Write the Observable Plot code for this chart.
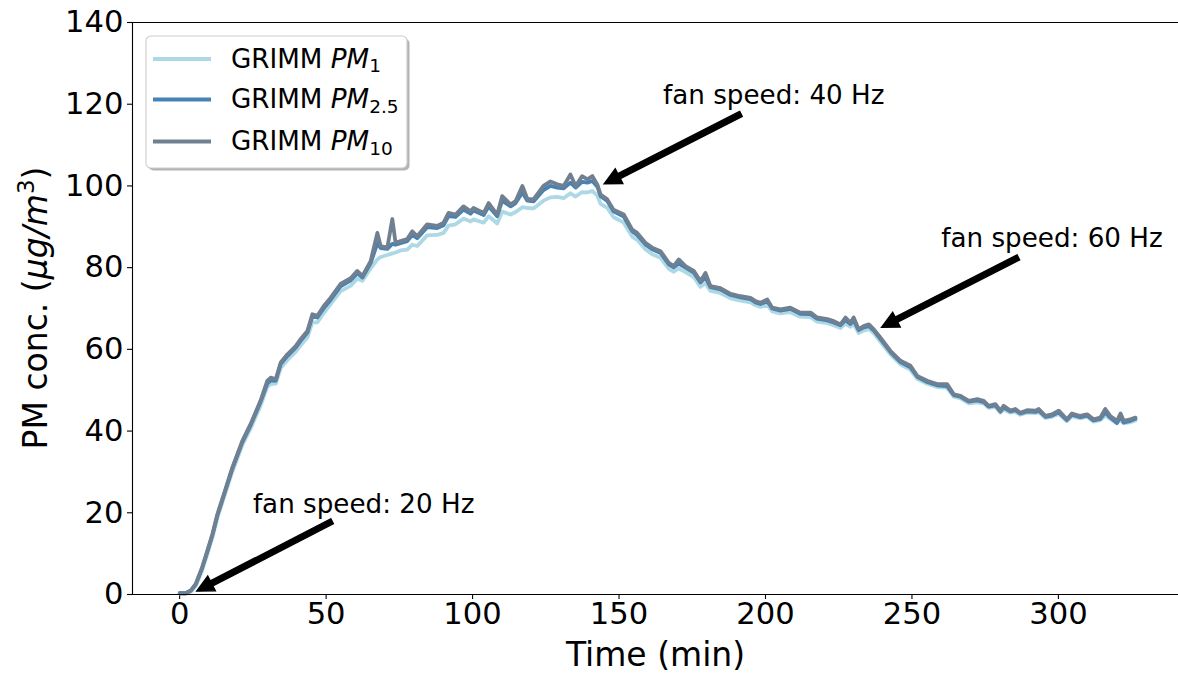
<!DOCTYPE html>
<html>
<head>
<meta charset="utf-8">
<script src="https://cdn.jsdelivr.net/npm/d3@7"></script>
<script src="https://cdn.jsdelivr.net/npm/@observablehq/plot@0.6"></script>
<style>
  html, body { margin: 0; padding: 0; background: #fff; }
  #chart svg { display: block; max-width: none !important; }
</style>
</head>
<body>
<div id="chart"></div>
<script>
// ---- data (time in minutes, concentration in µg/m³) ----
const minutes = [0,2,3.8,5.5,7.7,9.5,11.2,12.9,15.1,18.0,21.4,24.2,27.6,29.9,31.1,32.8,34.5,36.8,39.6,41.3,43.6,45.3,47.0,49.2,51.5,54.9,58.4,60.6,62.4,65.2,67.5,68.6,70.9,72.6,73.7,75.4,77.7,79.4,81.1,84.5,87.9,90.1,91.8,94.2,96.9,99.3,100.3,103.8,105.5,108.4,110.1,113.0,114.7,117.0,118.7,120.8,124.2,126.6,128.9,131.1,133.4,135.2,137.4,139.2,140.9,142.6,143.7,146.0,148.1,151.6,154.5,156.2,159.0,161.3,164.2,167.0,168.7,170.4,172.7,175.5,177.8,179.5,181.2,184.6,188.1,191.5,194.9,196.6,198.3,200.6,202.3,205.1,208.5,211.9,215.4,217.6,221.1,223.3,225.6,227.3,229.0,230.1,231.8,233.5,235.3,237.0,239.2,242.7,246.1,249.5,251.8,255.2,258.6,262.0,264.3,266.6,269.4,272.3,274.5,276.2,278.5,280.2,281.3,283.6,285.3,287.0,289.3,292.2,293.3,295.6,297.8,300.1,302.9,304.6,307.5,309.8,312.0,314.3,316.0,317.7,320.0,321.2,322.3,324.6,326.3];

const pm10 = [0.3,0.3,1.0,2.6,6.7,10.8,14.8,19.7,24.6,31.1,37.6,41.7,47.4,52.3,53.1,52.7,56.8,58.8,60.8,62.5,64.5,68.6,68.2,70.6,72.6,76.0,77.4,79.2,78.0,81.6,88.5,85.3,84.9,91.9,86.1,86.5,87.0,88.9,87.7,90.6,90.2,91.0,93.4,93.0,95.0,93.8,94.6,93.4,95.8,93.0,97.5,95.5,96.3,100.0,96.8,96.7,100.0,101.1,100.4,100.0,102.8,100.0,102.4,101.6,102.4,100.3,97.9,96.7,94.2,93.0,89.3,88.5,86.1,84.9,84.0,81.2,80.4,82.0,80.4,79.2,76.7,78.7,75.5,75.0,73.6,73.0,72.6,71.8,71.4,72.2,70.2,69.8,70.2,69.0,69.0,67.8,67.4,66.9,66.1,67.8,66.5,67.8,64.9,65.7,66.1,64.9,62.9,59.6,57.2,56.0,53.5,52.3,51.5,51.5,49.0,48.6,47.4,47.8,47.4,46.2,46.6,45.0,46.2,45.0,45.4,44.5,45.1,45.0,45.4,43.7,44.1,45.0,42.9,44.3,43.7,44.1,42.9,43.3,45.4,43.7,42.5,44.3,42.5,42.9,43.3];

const pm25 = [0.3,0.3,0.9,2.5,6.5,10.6,14.6,19.4,24.3,30.8,37.3,41.4,47.1,51.6,52.4,52.3,56.4,58.4,60.4,62.1,64.1,68.0,67.8,70.1,72.1,75.4,76.9,78.6,77.6,81.1,86.0,84.8,84.6,85.8,85.6,86.0,86.5,88.0,87.2,89.9,89.7,90.4,92.6,92.4,94.2,93.2,94.0,92.9,95.0,92.6,96.4,95.0,95.8,98.4,96.4,96.2,99.0,100.0,99.6,99.4,100.8,99.6,101.0,100.8,101.2,99.8,97.5,96.3,93.8,92.5,88.9,88.0,85.7,84.5,83.6,80.8,80.1,81.0,80.0,78.8,76.4,77.6,75.2,74.7,73.3,72.7,72.3,71.5,71.1,71.8,70.0,69.5,69.9,68.7,68.6,67.5,67.1,66.6,65.9,67.2,66.2,67.1,64.7,65.4,65.7,64.6,62.6,59.3,56.9,55.6,53.3,52.0,51.2,51.0,48.8,48.4,47.2,47.5,47.1,46.0,46.3,44.8,45.8,44.8,45.1,44.3,44.8,44.7,45.0,43.5,43.8,44.6,42.7,44.0,43.4,43.8,42.6,43.0,44.6,43.3,42.0,43.5,42.1,42.5,43.0];

const pm1 = [0.2,0.2,0.7,2.1,6.0,10.0,14.0,18.8,23.7,30.1,36.6,40.6,46.2,50.8,51.5,51.6,55.4,57.4,59.4,61.0,62.9,66.6,66.6,68.9,71.0,74.2,75.6,77.3,76.8,79.8,82.0,82.6,83.1,83.5,83.7,84.2,84.4,85.6,85.3,87.9,88.0,88.5,90.3,90.6,92.0,91.3,91.8,91.0,92.6,90.8,93.7,93.0,93.6,94.8,94.6,94.5,96.4,97.2,97.3,97.0,98.2,97.4,98.5,98.4,98.8,97.6,95.6,94.6,92.4,91.0,87.6,86.8,84.5,83.3,82.4,79.7,79.0,79.8,78.9,77.7,75.3,76.2,74.3,73.8,72.5,71.9,71.5,70.8,70.4,70.9,69.3,68.8,69.1,68.0,67.9,66.8,66.4,65.9,65.2,66.3,65.5,66.2,64.0,64.6,65.0,63.9,61.9,58.7,56.3,55.0,52.8,51.6,50.8,50.6,48.4,48.0,46.8,47.0,46.8,45.7,45.9,44.5,45.3,44.5,44.7,44.0,44.5,44.4,44.6,43.2,43.5,44.2,42.4,43.6,43.1,43.5,42.3,42.7,43.8,43.0,41.9,42.8,41.9,42.2,42.6];

const seriesNames = ["GRIMM PM1", "GRIMM PM2.5", "GRIMM PM10"];
const seriesColors = ["#add8e6", "#4682b4", "#708090"];
const legendSub = ["1", "2.5", "10"];

const xTicks = [0, 50, 100, 150, 200, 250, 300];
const yTicks = [0, 20, 40, 60, 80, 100, 120, 140];
const xDomain = [-16.1, 341];
const yDomain = [0, 140];

const annText = ["fan speed: 20 Hz", "fan speed: 40 Hz", "fan speed: 60 Hz"];
const annTextX = [25, 165, 260];
const annTextY = [20, 120, 85];
const arrowTailX = [52.2, 191.8, 286.5];
const arrowTailY = [17.8, 117.5, 82.4];
const arrowTipX = [6.0, 145.1, 239.8];
const arrowTipY = [0.7, 100.4, 65.3];

// ---- tables built from the arrays ----
const rows = (vals) => minutes.map((t, i) => ({t, v: vals[i]}));
const ann = annText.map((s, i) => ({s, x: annTextX[i], y: annTextY[i]}));

const FONT = "DejaVu Sans";

const plot = Plot.plot({
  width: 1178,
  height: 673,
  marginLeft: 132,
  marginRight: 0,
  marginTop: 22,
  marginBottom: 79,
  x: {domain: xDomain},
  y: {domain: yDomain},
  style: {fontFamily: FONT, fontSize: "30.6px", color: "#000", background: "#fff", overflow: "visible"},
  marks: [
    Plot.axisX({ticks: xTicks, tickSize: 5, tickPadding: 3, tickFormat: d => String(d), label: null, fontSize: 30.6, stroke: "#000", strokeWidth: 1.1}),
    Plot.axisY({ticks: yTicks, tickSize: 5, tickPadding: 4, tickFormat: d => String(d), label: null, fontSize: 30.6, stroke: "#000", strokeWidth: 1.1}),
    Plot.line(rows(pm1), {x: "t", y: "v", stroke: seriesColors[0], strokeWidth: 3.8, strokeLinejoin: "round"}),
    Plot.line(rows(pm25), {x: "t", y: "v", stroke: seriesColors[1], strokeWidth: 3.8, strokeLinejoin: "round"}),
    Plot.line(rows(pm10), {x: "t", y: "v", stroke: seriesColors[2], strokeWidth: 3.8, strokeLinejoin: "round"}),
    Plot.ruleY([yDomain[0]], {stroke: "#000", strokeWidth: 1.1}),
    Plot.ruleY([yDomain[1]], {stroke: "#000", strokeWidth: 1.1}),
    Plot.ruleX([xDomain[0]], {stroke: "#000", strokeWidth: 1.1}),
    Plot.text(ann, {x: "x", y: "y", text: "s", textAnchor: "start", lineAnchor: "bottom", fontSize: 26.2, fill: "#000"}),
    Plot.text(["Time (min)"], {frameAnchor: "bottom", lineAnchor: "bottom", dy: 71, fontSize: 33, fill: "#000"})
  ]
});

document.getElementById("chart").appendChild(plot);

const svg = d3.select(plot);
const xs = plot.scale("x"), ys = plot.scale("y");

// arrows (filled, matplotlib-like) placed with the plot's scales
const arrowG = svg.append("g");
annText.forEach((_, i) => {
  const x0 = xs.apply(arrowTailX[i]), y0 = ys.apply(arrowTailY[i]);
  const x1 = xs.apply(arrowTipX[i]), y1 = ys.apply(arrowTipY[i]);
  const dx = x1 - x0, dy = y1 - y0, L = Math.hypot(dx, dy);
  const ux = dx / L, uy = dy / L, nx = -uy, ny = ux;
  const w = 2.8, hw = 8.3, hl = 16.7;
  const bx = x1 - ux * hl, by = y1 - uy * hl;
  const pts = [
    [x0 + nx * w, y0 + ny * w],
    [bx + nx * w, by + ny * w],
    [bx + nx * hw, by + ny * hw],
    [x1, y1],
    [bx - nx * hw, by - ny * hw],
    [bx - nx * w, by - ny * w],
    [x0 - nx * w, y0 - ny * w]
  ];
  arrowG.append("polygon")
    .attr("points", pts.map(p => p.join(",")).join(" "))
    .attr("fill", "#000").attr("stroke", "#000").attr("stroke-width", 1.4)
    .attr("stroke-linejoin", "miter");
});

// y-axis label with math formatting
const yl = svg.append("text")
  .attr("transform", `translate(47,${(ys.apply(yDomain[0]) + ys.apply(yDomain[1])) / 2}) rotate(-90)`)
  .attr("text-anchor", "middle")
  .attr("font-family", FONT)
  .attr("font-size", 33)
  .attr("fill", "#000");
yl.append("tspan").text("PM conc. (");
yl.append("tspan").attr("font-style", "italic").text("μg/m");
yl.append("tspan").attr("font-size", 23).attr("dy", -13).text("3");
yl.append("tspan").attr("dy", 13).text(")");

// legend
const lg = svg.append("g").attr("font-family", FONT).attr("text-anchor", "start");
const bx0 = 146, by0 = 36, bw = 261, bh = 132;
lg.append("rect").attr("x", bx0 + 2.5).attr("y", by0 + 2.5).attr("width", bw).attr("height", bh)
  .attr("rx", 5).attr("fill", "#b3b3b3");
lg.append("rect").attr("x", bx0).attr("y", by0).attr("width", bw).attr("height", bh)
  .attr("rx", 5).attr("fill", "#fff").attr("stroke", "#cccccc").attr("stroke-width", 1.1);
const rowY = [59, 99.5, 141.5];
seriesNames.forEach((name, i) => {
  lg.append("line").attr("x1", 153).attr("x2", 211).attr("y1", rowY[i]).attr("y2", rowY[i])
    .attr("stroke", seriesColors[i]).attr("stroke-width", 3.8);
  const t = lg.append("text").attr("x", 231).attr("y", rowY[i] + 8.5)
    .attr("text-anchor", "start").attr("font-size", 26.2).attr("fill", "#000");
  t.append("tspan").text("GRIMM ");
  t.append("tspan").attr("font-style", "italic").text("PM");
  t.append("tspan").attr("font-size", 18.5).attr("dy", 4.5).text(legendSub[i]);
});
</script>
</body>
</html>
